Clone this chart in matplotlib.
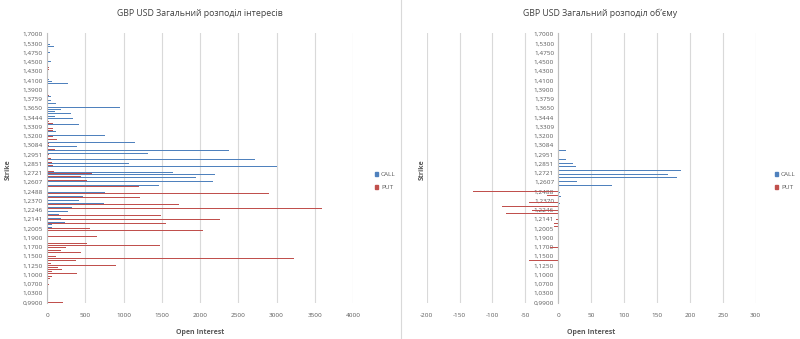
import numpy as np
import matplotlib
matplotlib.use("Agg")
import matplotlib.pyplot as plt
from matplotlib.patches import Patch
from matplotlib.lines import Line2D

plt.rcParams['font.family'] = ['Open Sans', 'DejaVu Sans']
plt.rcParams['axes.unicode_minus'] = False

BLUE = '#4F81BD'
RED = '#C0504D'
GRID = '#D9D9D9'
TXT = '#595959'

# every 5th strike is labelled (top -> bottom)
strike_labels = [
    '1,7000', '1,5300', '1,4750', '1,4500', '1,4300', '1,4100', '1,3900', '1,3759',
    '1,3650', '1,3444', '1,3309', '1,3200', '1,3084', '1,2951', '1,2851', '1,2721',
    '1,2607', '1,2488', '1,2370', '1,2246', '1,2141', '1,2005', '1,1900', '1,1700',
    '1,1500', '1,1250', '1,1000', '1,0700', '1,0300', '0,9900',
]

# open interest, one row per labelled strike group (top -> bottom)
call_oi = [
    13, 0, 13, 13, 8,          # 1,7000
    17, 40, 95, 0, 0,          # 1,5300
    45, 20, 10, 0, 0,          # 1,4750
    48, 0, 0, 5, 15,           # 1,4500
    8, 0, 0, 8, 0,             # 1,4300
    30, 70, 270, 0, 0,         # 1,4100
    15, 15, 15, 0, 57,         # 1,3900
    0, 48, 0, 113, 0,          # 1,3759
    950, 183, 105, 320, 100,   # 1,3650
    105, 344, 0, 0, 413,       # 1,3444
    0, 505, 0, 113, 0,         # 1,3309
    761, 0, 322, 0, 1153,      # 1,3200
    0, 387, 0, 2379, 0,        # 1,3084
    1314, 0, 0, 2714, 0,       # 1,2951
    1074, 0, 3006, 0, 0,       # 1,2851
    1644, 2201, 0, 1944, 0,    # 1,2721
    2166, 0, 1462, 0, 3532,    # 1,2607
    0, 761, 0, 470, 0,         # 1,2488
    418, 0, 748, 0, 322,       # 1,2370
    0, 270, 0, 152, 0,         # 1,2246
    178, 0, 230, 70, 0,        # 1,2141
    61, 0, 0, 0, 0,            # 1,2005
    0, 39, 0, 0, 0,            # 1,1900
    0, 0, 0, 0, 0,             # 1,1700
    0, 0, 0, 0, 0,             # 1,1500
    0, 0, 0, 0, 0,             # 1,1250
    0, 0, 0, 0, 0,             # 1,1000
    0, 0, 0, 0, 0,             # 1,0700
    0, 0, 0, 0, 0,             # 1,0300
    0,                         # 0,9900
]

put_oi = [
    0, 0, 0, 0, 0,
    0, 0, 0, 0, 0,
    0, 0, 0, 0, 0,
    0, 0, 0, 30, 25,
    0, 0, 0, 0, 0,
    0, 0, 0, 0, 0,
    0, 0, 15, 20, 0,
    0, 0, 0, 0, 0,
    0, 0, 0, 0, 0,
    0, 0, 22, 74, 0,
    0, 83, 74, 0, 0,
    74, 0, 126, 0, 22,
    30, 0, 100, 0, 0,
    22, 0, 48, 0, 60,
    0, 74, 0, 0, 91,
    587, 0, 439, 0, 518,
    0, 0, 1201, 0, 0,
    0, 2897, 0, 1214, 0,
    1905, 0, 1731, 0, 3589,
    0, 2123, 0, 1496, 0,
    2258, 0, 1553, 0, 0,
    557, 2045, 0, 0, 648,
    1815, 0, 0, 518, 1483,
    244, 496, 183, 450, 0,
    117, 3228, 374, 170, 52,
    905, 150, 190, 70, 387,
    52, 70, 39, 0, 0,
    22, 0, 0, 17, 0,
    0, 0, 17, 74, 0,
    213,
]

# volume
call_vol = [0] * 50 + [
    0, 55, 0, 0, 0,
    0, 0, 0, 0, 0,
    0, 0, 0, 11, 0,
    0, 0, 0, 12, 0,
    22, 0, 27, 0, 187,
    0, 166, 0, 181, 0,
    28, 0, 82, 0, 239,
    0, 2, 0, 4, 0,
    0, 0, 2, 0, 0,
] + [0] * 51

put_vol = [0] * 85 + [
    -130, 0, -17, 0, 0,
    -172, -45, 0, -85, 0,
    -40, 0, -79, 0, 0,
    -3, 0, -6, 0, -6,
    0, 0, 0, 0, 0,
    0, 0, 0, 0, 0,
    -12, 0, 0, 0, 0,
    0, 0, -44, 0, 0,
] + [0] * 21

n = len(call_oi)
ypos = np.arange(n)[::-1]
tick_pos = ypos[::5]

fig = plt.figure(figsize=(8, 3.39), dpi=100)

bottom = 1 - 303.2 / 339
height = 270.1 / 339
ax1 = fig.add_axes([47 / 800, bottom, 306 / 800, height])
ax2 = fig.add_axes([426.7 / 800, bottom, 329 / 800, height])

bh = 0.46
for ax, calls, puts in [(ax1, call_oi, put_oi), (ax2, call_vol, put_vol)]:
    ax.barh(ypos + bh / 2, calls, height=bh, color=BLUE, linewidth=0)
    ax.barh(ypos - bh / 2, puts, height=bh, color=RED, linewidth=0)
    ax.set_ylim(-0.5, n - 0.5)
    ax.set_yticks(tick_pos)
    ax.set_yticklabels(strike_labels)
    ax.set_axisbelow(True)
    ax.grid(axis='x', color=GRID, linewidth=0.8)
    for s in ['top', 'right', 'bottom']:
        ax.spines[s].set_visible(False)
    ax.spines['left'].set_color('#BFBFBF')
    ax.spines['left'].set_linewidth(0.8)
    ax.tick_params(axis='y', length=0, labelsize=4.6, colors=TXT, pad=3)
    ax.tick_params(axis='x', length=0, labelsize=4.6, colors=TXT, pad=7)
    ax.set_xlabel('Open Interest', fontsize=5, fontweight='bold', color=TXT, labelpad=8)

ax1.set_xlim(0, 4000)
ax1.set_xticks(range(0, 4001, 500))

ax2.set_xlim(-200, 300)
ax2.set_xticks(range(-200, 301, 50))
ax2.spines['left'].set_position(('data', 0))

fig.text(200 / 800, 1 - 13 / 339, 'GBP USD Загальний розподіл інтересів',
         ha='center', va='center', fontsize=6.3, color='#404040')
fig.text(600 / 800, 1 - 13 / 339, 'GBP USD Загальний розподіл об’єму',
         ha='center', va='center', fontsize=6.3, color='#404040')

for xs in [8, 422]:
    fig.text(xs / 800, 1 - 170 / 339, 'Strike', rotation=90, ha='center', va='center',
             fontsize=5, fontweight='bold', color=TXT)

handles = [Patch(color=BLUE, label='CALL'), Patch(color=RED, label='PUT')]
for lx in [372, 772]:
    leg = fig.legend(handles=handles, loc='center left', bbox_to_anchor=(lx / 800, 1 - 181 / 339),
                     frameon=False, fontsize=4.6, handlelength=0.6, handleheight=0.6,
                     handletextpad=0.4, labelspacing=1.3, borderaxespad=0)
    for t in leg.get_texts():
        t.set_color(TXT)

fig.add_artist(Line2D([400.5 / 800, 400.5 / 800], [0, 1], color=GRID, linewidth=0.8))

fig.savefig('out.png', dpi=100)
